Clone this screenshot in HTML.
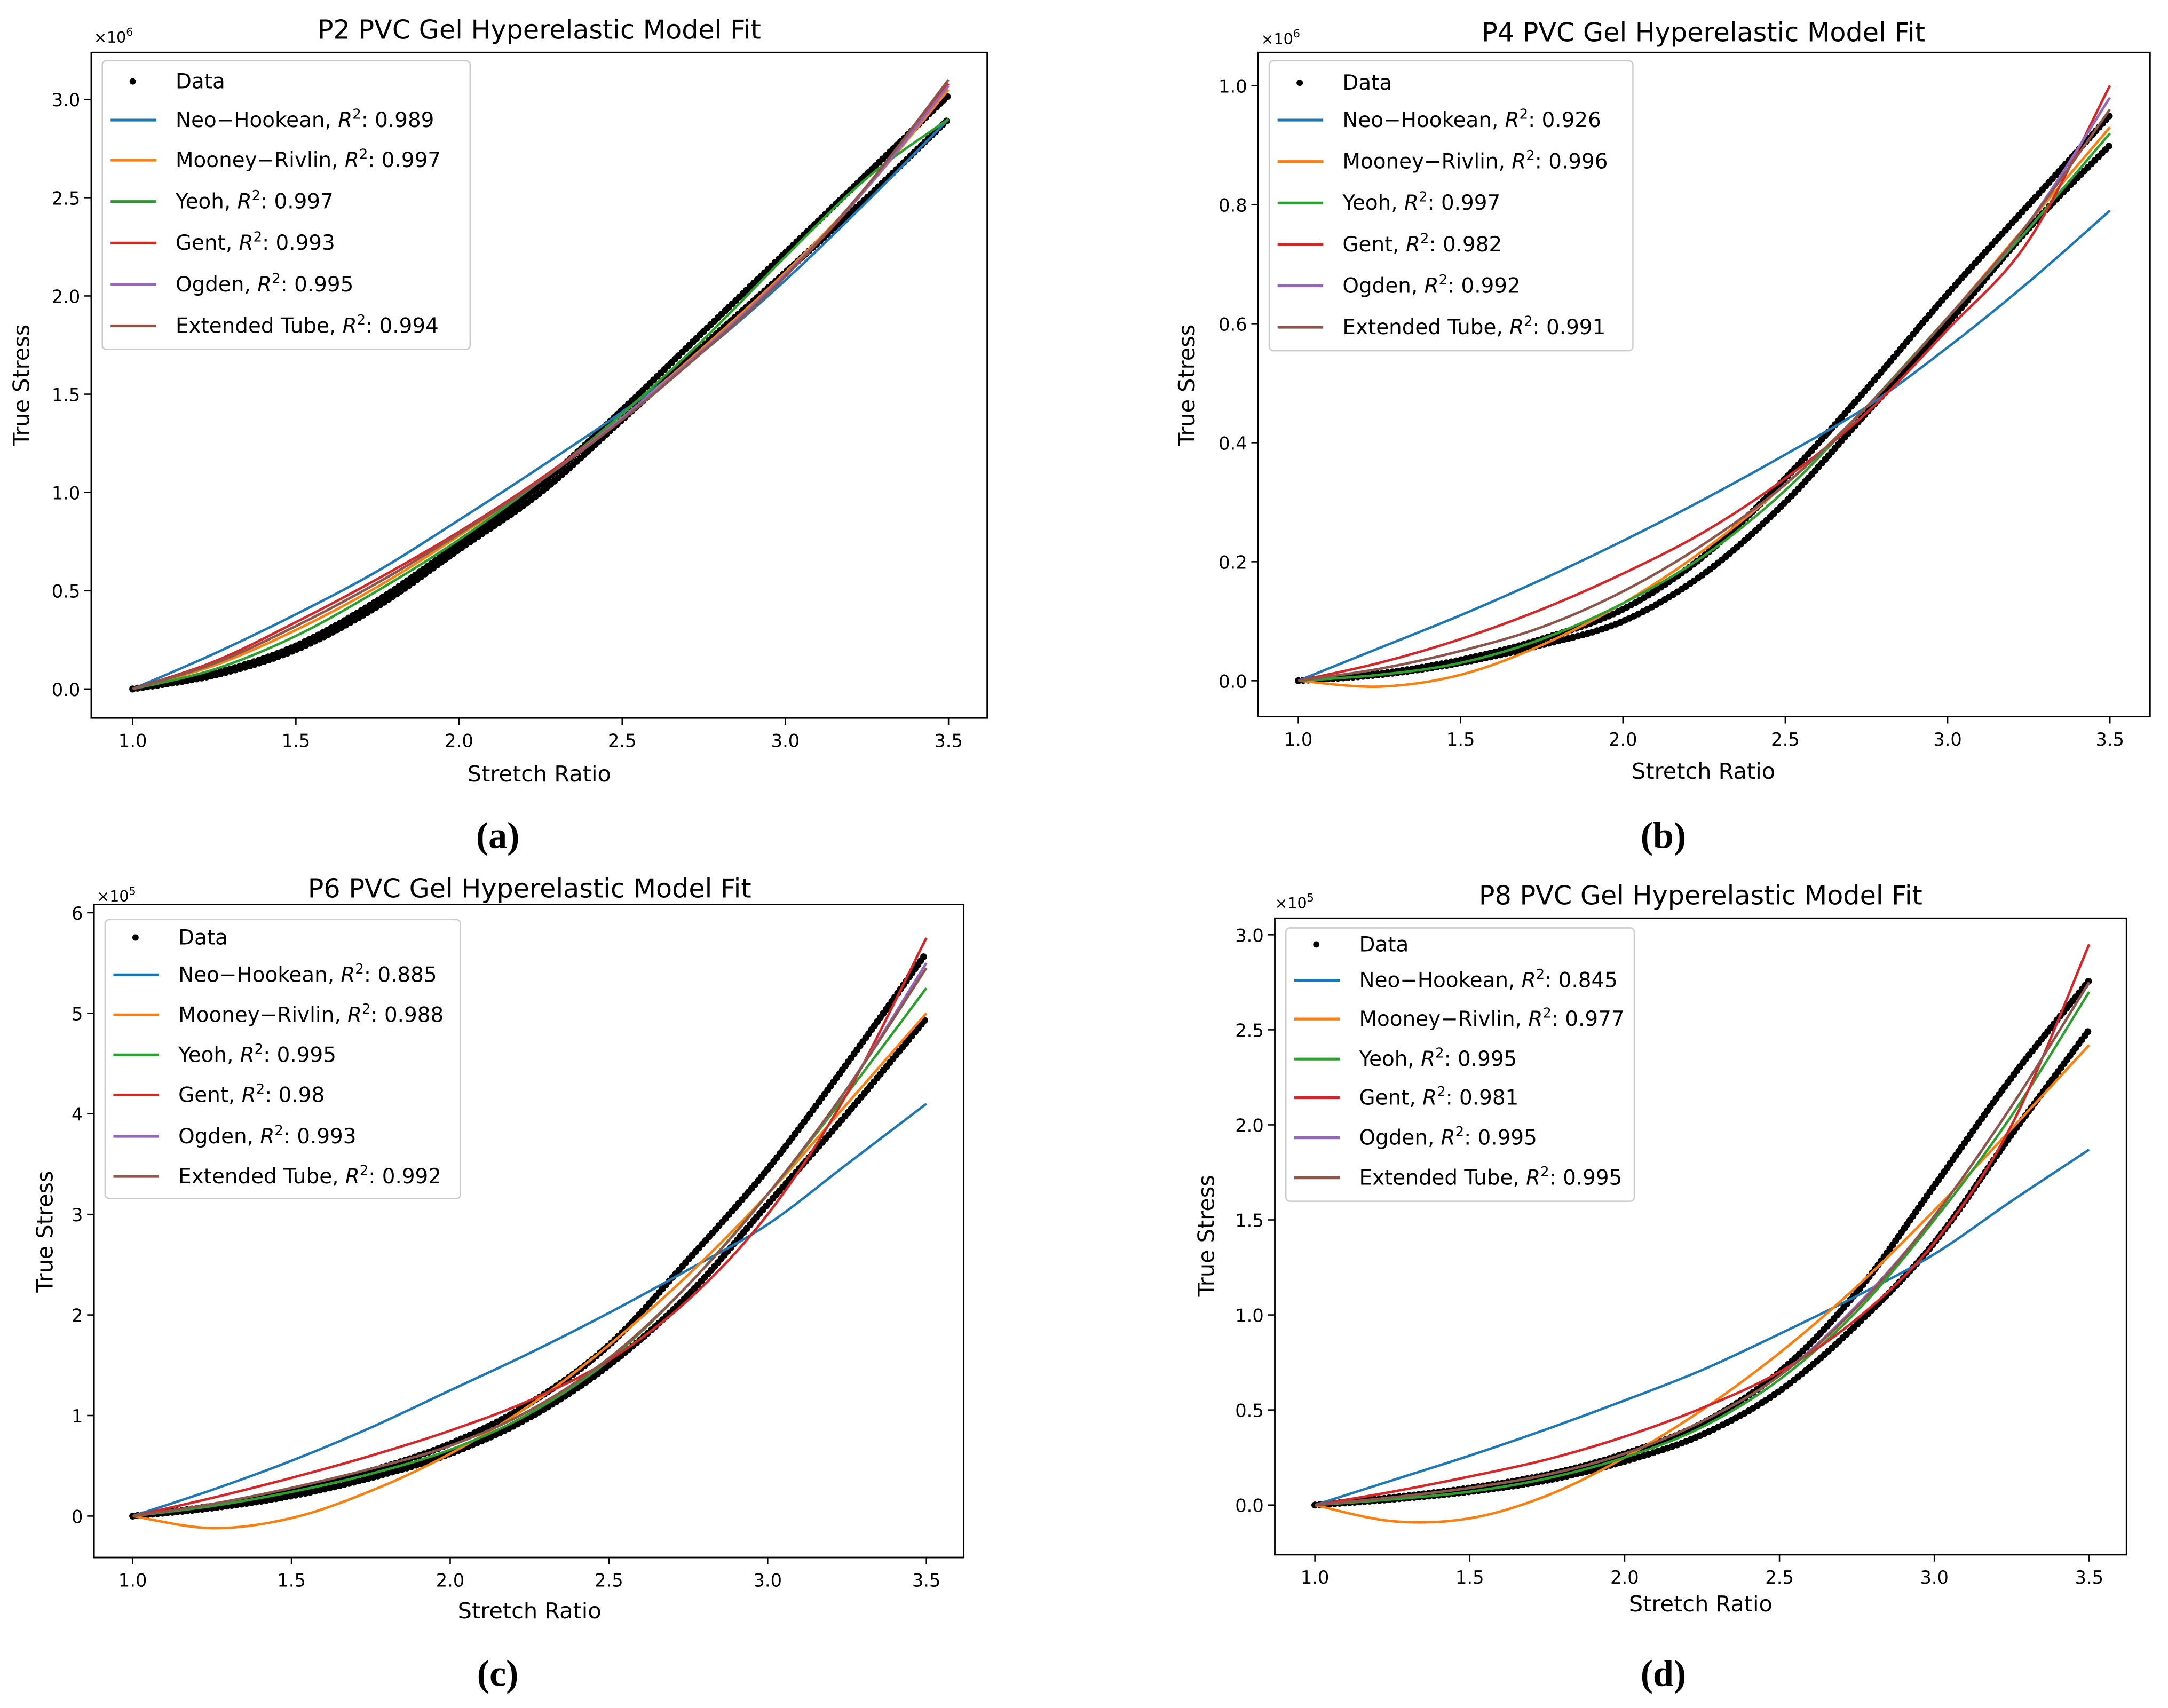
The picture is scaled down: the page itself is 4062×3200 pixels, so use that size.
<!DOCTYPE html>
<html><head><meta charset="utf-8"><style>
html,body{margin:0;padding:0;background:#fff}
svg{display:block}
text{font-family:"DejaVu Sans","Liberation Sans",sans-serif;fill:#000}
.lbl{font-family:"Liberation Serif",serif;font-weight:bold}
</style></head><body>
<svg id="fig" width="4062" height="3200" viewBox="0 0 1568 1237" preserveAspectRatio="none" xmlns="http://www.w3.org/2000/svg"></svg>
<script>
// shared x grid for all series
const xVals = [1.0,1.25,1.5,1.75,2.0,2.25,2.5,2.75,3.0,3.25,3.5];
const modelNames = ["Neo\u2212Hookean","Mooney\u2212Rivlin","Yeoh","Gent","Ogden","Extended Tube"];
const colors = ["#1f77b4","#ff7f0e","#2ca02c","#d62728","#9467bd","#8c564b"];

// Panel A (x1e6)
const aR2 = ["0.989","0.997","0.997","0.993","0.995","0.994"];
const aDataUp = [0,0.08,0.22,0.45,0.74,1.04,1.42,1.82,2.22,2.62,3.02];
const aDataLo = [0,0.07,0.2,0.42,0.71,1.0,1.37,1.75,2.12,2.5,2.9];
const aNeo = [0,0.18,0.38,0.6,0.86,1.13,1.41,1.72,2.08,2.48,2.9];
const aMooney = [0,0.12,0.3,0.52,0.78,1.06,1.38,1.74,2.12,2.55,3.05];
const aYeoh = [0,0.1,0.27,0.5,0.76,1.06,1.4,1.78,2.2,2.6,2.9];
const aGent = [0,0.14,0.34,0.56,0.8,1.07,1.38,1.72,2.1,2.55,3.08];
const aOgden = [0,0.13,0.32,0.54,0.79,1.06,1.38,1.73,2.11,2.55,3.07];
const aTube = [0,0.13,0.32,0.54,0.79,1.06,1.37,1.72,2.1,2.56,3.1];
const aTicks = ["0.0","0.5","1.0","1.5","2.0","2.5","3.0"];

// Panel B (x1e6)
const bR2 = ["0.926","0.996","0.997","0.982","0.992","0.991"];
const bDataUp = [0,0.012,0.035,0.07,0.12,0.21,0.34,0.49,0.65,0.8,0.95];
const bDataLo = [0,0.01,0.03,0.06,0.1,0.18,0.3,0.45,0.6,0.76,0.9];
const bNeo = [0,0.055,0.11,0.17,0.235,0.305,0.38,0.46,0.56,0.67,0.79];
const bMooney = [0,-0.01,0.01,0.06,0.13,0.22,0.33,0.46,0.61,0.77,0.93];
const bYeoh = [0,0.01,0.03,0.07,0.13,0.21,0.32,0.46,0.61,0.76,0.92];
const bGent = [0,0.03,0.07,0.12,0.18,0.25,0.34,0.45,0.59,0.74,1.0];
const bOgden = [0,0.02,0.05,0.09,0.15,0.23,0.33,0.46,0.61,0.77,0.98];
const bTube = [0,0.02,0.05,0.09,0.15,0.23,0.33,0.46,0.61,0.77,0.96];
const bTicks = ["0.0","0.2","0.4","0.6","0.8","1.0"];

// Panel C (x1e5)
const cR2 = ["0.885","0.988","0.995","0.98","0.993","0.992"];
const cDataUp = [0,0.1,0.25,0.45,0.72,1.12,1.7,2.55,3.45,4.5,5.6];
const cDataLo = [0,0.08,0.2,0.38,0.62,0.98,1.5,2.2,3.1,4.0,4.95];
const cNeo = [0,0.26,0.55,0.88,1.25,1.62,2.02,2.45,2.9,3.5,4.1];
const cMooney = [0,-0.12,-0.02,0.25,0.62,1.1,1.7,2.4,3.2,4.1,5.0];
const cYeoh = [0,0.1,0.24,0.42,0.66,1.02,1.55,2.3,3.2,4.2,5.25];
const cGent = [0,0.18,0.38,0.6,0.85,1.15,1.55,2.15,3.0,4.2,5.75];
const cOgden = [0,0.12,0.28,0.47,0.7,1.05,1.57,2.3,3.2,4.25,5.5];
const cTube = [0,0.12,0.28,0.47,0.7,1.05,1.57,2.3,3.2,4.25,5.45];
const cTicks = ["0","1","2","3","4","5","6"];

// Panel D (x1e5)
const dR2 = ["0.845","0.977","0.995","0.981","0.995","0.995"];
const dDataUp = [0,0.04,0.09,0.16,0.27,0.43,0.7,1.12,1.68,2.25,2.76];
const dDataLo = [0,0.03,0.07,0.13,0.23,0.37,0.6,0.95,1.38,1.95,2.5];
const dNeo = [0,0.13,0.26,0.4,0.55,0.71,0.9,1.1,1.32,1.6,1.87];
const dMooney = [0,-0.085,-0.07,0.05,0.25,0.5,0.8,1.15,1.55,1.98,2.42];
const dYeoh = [0,0.03,0.07,0.14,0.25,0.41,0.66,1.02,1.5,2.05,2.7];
const dGent = [0,0.07,0.15,0.24,0.36,0.51,0.7,0.98,1.38,2.0,2.95];
const dOgden = [0,0.04,0.09,0.16,0.27,0.44,0.68,1.05,1.52,2.1,2.75];
const dTube = [0,0.04,0.09,0.16,0.27,0.44,0.68,1.04,1.52,2.1,2.75];
const dTicks = ["0.0","0.5","1.0","1.5","2.0","2.5","3.0"];
const xTicks = ["1.0","1.5","2.0","2.5","3.0","3.5"];

const NS="http://www.w3.org/2000/svg";
const svg=document.getElementById('fig');
function mk(tag,attrs,parent){const e=document.createElementNS(NS,tag);for(const k in attrs)e.setAttribute(k,attrs[k]);(parent||svg).appendChild(e);return e;}

const panels=[
 {key:"a",title:"P2 PVC Gel Hyperelastic Model Fit",mult:"6",box:[66,38,714,520],x0:96,x1:686,yv0:0,yp0:499,yv1:3,yp1:72,ticks:aTicks,tickStep:0.5,r2:aR2,up:aDataUp,lo:aDataLo,models:[aNeo,aMooney,aYeoh,aGent,aOgden,aTube],leg:[74,44,340,253],legY:[59,87,116,146,176,206,236],tx:390,ty:21,xl:560,yl:[15,279],mx:[68,28],lab:[360,605]},
 {key:"b",title:"P4 PVC Gel Hyperelastic Model Fit",mult:"6",box:[910,38,1555,519],x0:939,x1:1526,yv0:0,yp0:493,yv1:1,yp1:62,ticks:bTicks,tickStep:0.2,r2:bR2,up:bDataUp,lo:bDataLo,models:[bNeo,bMooney,bYeoh,bGent,bOgden,bTube],leg:[918,44,1181,254],legY:[60,87,117,147,177,207,237],tx:1232,ty:23,xl:558,yl:[858,279],mx:[912,29],lab:[1203,605]},
 {key:"c",title:"P6 PVC Gel Hyperelastic Model Fit",mult:"5",box:[68,655,697,1128],x0:96,x1:670,yv0:0,yp0:1098,yv1:6,yp1:661,ticks:cTicks,tickStep:1,r2:cR2,up:cDataUp,lo:cDataLo,models:[cNeo,cMooney,cYeoh,cGent,cOgden,cTube],leg:[76,666,333,868],legY:[679,706,735,764,793,823,852],tx:383,ty:643,xl:1166,yl:[32,892],mx:[70,650],lab:[360,1212]},
 {key:"d",title:"P8 PVC Gel Hyperelastic Model Fit",mult:"5",box:[922,665,1538,1126],x0:951,x1:1511,yv0:0,yp0:1090,yv1:3,yp1:677,ticks:dTicks,tickStep:0.5,r2:dR2,up:dDataUp,lo:dDataLo,models:[dNeo,dMooney,dYeoh,dGent,dOgden,dTube],leg:[930,672,1182,870],legY:[684,710,738,767,795,824,853],tx:1230,ty:648,xl:1161,yl:[872,895],mx:[922,655],lab:[1203,1212]}
];

function smoothPath(pts){
 let d="M"+pts[0][0]+","+pts[0][1];
 for(let i=0;i<pts.length-1;i++){
  const p0=pts[Math.max(0,i-1)],p1=pts[i],p2=pts[i+1],p3=pts[Math.min(pts.length-1,i+2)];
  const c1=[p1[0]+(p2[0]-p0[0])/6,p1[1]+(p2[1]-p0[1])/6];
  const c2=[p2[0]-(p3[0]-p1[0])/6,p2[1]-(p3[1]-p1[1])/6];
  d+=" C"+c1[0]+","+c1[1]+" "+c2[0]+","+c2[1]+" "+p2[0]+","+p2[1];
 }
 return d;
}

panels.forEach(P=>{
 const g=mk('g',{});
 
 
 const sx=v=>P.x0+(v-1)/2.5*(P.x1-P.x0);
 const sy=v=>P.yp0+(v-P.yv0)/(P.yv1-P.yv0)*(P.yp1-P.yp0);
 const [L,T,R,B]=P.box;
 const t=mk('text',{x:P.tx,y:P.ty+7,'text-anchor':'middle','font-size':19},g);t.textContent=P.title;
 
 const m=mk('text',{x:P.mx[0],y:P.mx[1]+3,'font-size':11},g);
 
 m.textContent="\u00d710";const sup=mk('tspan',{dy:-5,'font-size':8},m);sup.textContent=P.mult;
 [P.up,P.lo].forEach((arr,k)=>{
  const pts=xVals.map((x,i)=>[sx(x),sy(arr[i])]);
  const p=mk('path',{d:smoothPath(pts),fill:'none',stroke:'#000','stroke-width':5,'stroke-linecap':'round','stroke-dasharray':'0 3.6'},g);
  
 });
 P.models.forEach((arr,j)=>{
  const pts=xVals.map((x,i)=>[sx(x),sy(arr[i])]);
  const p=mk('path',{d:smoothPath(pts),fill:'none',stroke:colors[j],'stroke-width':1.8},g);
  
  
 });
 const fr=mk('rect',{x:L,y:T,width:R-L,height:B-T,fill:'none',stroke:'#000','stroke-width':1.1},g);
 
 xTicks.forEach(s=>{const v=parseFloat(s),x=sx(v);
  mk('line',{x1:x,x2:x,y1:B,y2:B+5,stroke:'#000','stroke-width':1},g);
  const tt=mk('text',{x:x,y:B+21,'text-anchor':'middle','font-size':13},g);tt.textContent=s;
  });
 P.ticks.forEach((s,i)=>{const y=sy(P.yv0+i*P.tickStep);
  mk('line',{x1:L-5,x2:L,y1:y,y2:y,stroke:'#000','stroke-width':1},g);
  const tt=mk('text',{x:L-8,y:y+5,'text-anchor':'end','font-size':13},g);tt.textContent=s;
  });
 const xl=mk('text',{x:P.tx,y:P.xl+6,'text-anchor':'middle','font-size':16},g);xl.textContent="Stretch Ratio";
 
 const yl=mk('text',{x:0,y:0,'text-anchor':'middle','font-size':16,transform:`translate(${P.yl[0]+6},${P.yl[1]}) rotate(-90)`},g);yl.textContent="True Stress";
 
 const [lx0,ly0,lx1,ly1]=P.leg;
 const lg=mk('g',{},g);
 mk('rect',{x:lx0,y:ly0,width:lx1-lx0,height:ly1-ly0,rx:3,fill:'#fff','fill-opacity':0.85,stroke:'#ccc','stroke-width':1},lg);
 P.legY.forEach((y,i)=>{
  const e=mk('g',{},lg);
  if(i===0){mk('circle',{cx:lx0+22,cy:y,r:2.3,fill:'#000'},e);}
  else mk('line',{x1:lx0+6,x2:lx0+39,y1:y,y2:y,stroke:colors[i-1],'stroke-width':2},e);
  const tx=mk('text',{x:lx0+53,y:y+5,'font-size':15},e);
  if(i===0)tx.textContent="Data";
  else{tx.appendChild(document.createTextNode(modelNames[i-1]+", "));
   const it=mk('tspan',{'font-style':'italic'},tx);it.textContent="R";
   const s2=mk('tspan',{dy:-6,'font-size':10},tx);s2.textContent="2";
   const rest=mk('tspan',{dy:6},tx);rest.textContent=": "+P.r2[i-1];}
 });
 const lb=mk('text',{x:P.lab[0],y:P.lab[1]+9,'text-anchor':'middle','font-size':27,'class':'lbl'},g);lb.textContent="("+P.key+")";
 
});
</script>
</body></html>
